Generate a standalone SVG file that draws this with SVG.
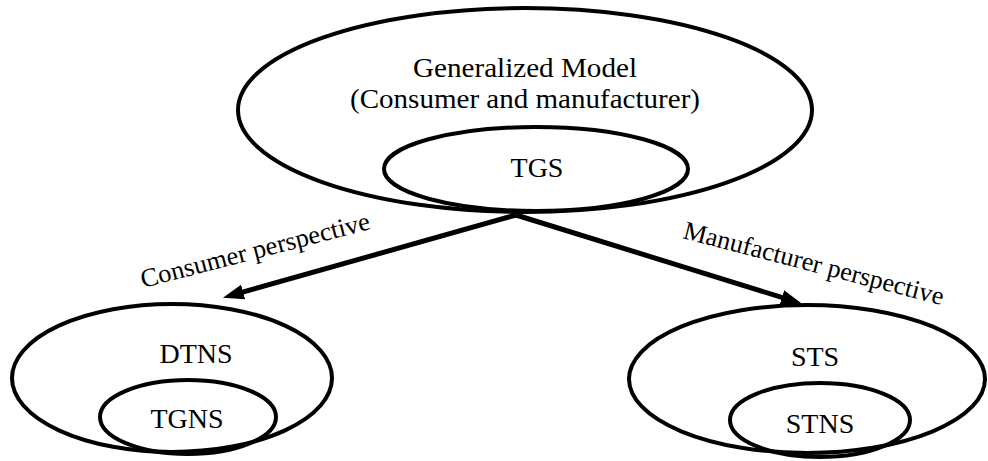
<svg xmlns="http://www.w3.org/2000/svg" width="988" height="461" viewBox="0 0 988 461">
  <style>
    .shape { fill: none; stroke: #000; stroke-width: 4; }
    .label { font-family: "Liberation Serif", "Times New Roman", serif; font-size: 28px; fill: #000; text-anchor: middle; }
    .edge-label { font-family: "Liberation Serif", "Times New Roman", serif; font-size: 26px; fill: #000; }
    .edge { stroke: #000; stroke-width: 5; fill: none; marker-end: url(#head); }
  </style>
  <defs>
    <marker id="head" markerUnits="userSpaceOnUse" viewBox="0 -9 24 18" refX="10" refY="0" markerWidth="24" markerHeight="18" orient="auto">
      <path d="M0,-7.5 L21,0 L0,7.5 z" fill="#000"/>
    </marker>
  </defs>
  <rect width="988" height="461" fill="#fff"/>

  <!-- top: generalized model containing TGS -->
  <g id="generalized-model">
    <ellipse class="shape" cx="525" cy="110" rx="287" ry="102"/>
    <text class="label" x="525" y="77" textLength="224" lengthAdjust="spacingAndGlyphs">Generalized Model</text>
    <text class="label" x="525" y="108" textLength="350" lengthAdjust="spacingAndGlyphs">(Consumer and manufacturer)</text>
  </g>
  <g id="tgs">
    <ellipse class="shape" cx="536" cy="169" rx="152" ry="42"/>
    <text class="label" x="537" y="177">TGS</text>
  </g>

  <!-- bottom left: DTNS containing TGNS -->
  <g id="dtns">
    <ellipse class="shape" cx="172" cy="378" rx="160" ry="74"/>
    <text class="label" x="196" y="363">DTNS</text>
  </g>
  <g id="tgns">
    <ellipse class="shape" cx="188" cy="417" rx="88" ry="37"/>
    <text class="label" x="187" y="428">TGNS</text>
  </g>

  <!-- bottom right: STS containing STNS -->
  <g id="sts">
    <ellipse class="shape" cx="807" cy="379" rx="178" ry="74"/>
    <text class="label" x="815" y="366">STS</text>
  </g>
  <g id="stns">
    <ellipse class="shape" cx="820" cy="420" rx="90" ry="37"/>
    <text class="label" x="820" y="433">STNS</text>
  </g>

  <!-- connectors -->
  <g id="connectors">
    <line class="edge" x1="516" y1="215" x2="233.5" y2="294.7"/>
    <line class="edge" x1="516" y1="215" x2="791.5" y2="300.4"/>
    <text class="edge-label" transform="translate(143,288) rotate(-14.5)" textLength="236" lengthAdjust="spacingAndGlyphs">Consumer perspective</text>
    <text class="edge-label" transform="translate(682,238) rotate(14.5)" textLength="268" lengthAdjust="spacingAndGlyphs">Manufacturer perspective</text>
  </g>
</svg>
